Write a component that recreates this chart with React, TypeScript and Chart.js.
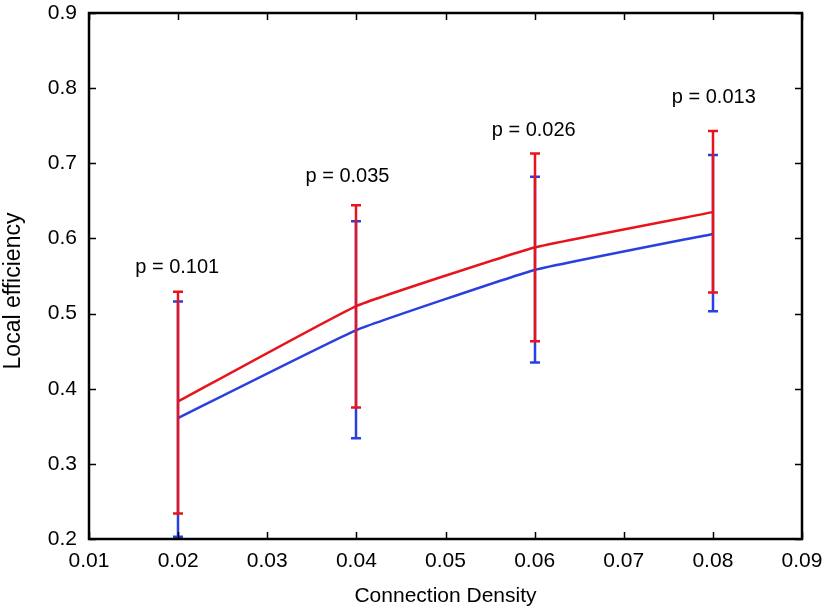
import React, { useEffect, useRef } from "react";
import { Chart, registerables } from "chart.js";

Chart.register(...registerables);

const densities = [0.02, 0.04, 0.06, 0.08];
const redMean = [0.383, 0.51, 0.588, 0.635];
const redLow = [0.234, 0.375, 0.463, 0.528];
const redHigh = [0.529, 0.644, 0.713, 0.743];
const blueMean = [0.361, 0.478, 0.558, 0.606];
const blueLow = [0.203, 0.334, 0.435, 0.503];
const blueHigh = [0.516, 0.623, 0.682, 0.711];
const pLabels = ["p = 0.101", "p = 0.035", "p = 0.026", "p = 0.013"];
const pLabelX = [0.0199, 0.039, 0.0599, 0.0801];
const pLabelY = [0.561, 0.682, 0.744, 0.787];
const yTitle = "Local efficiency";
const xTitle = "Connection Density";

const RED = "#e8141c";
const BLUE = "#2a3fe0";
const FONT = "'Liberation Sans', Arial, Helvetica, sans-serif";

const framePlugin = {
  id: "frame",
  afterDatasetsDraw(chart: any) {
    const { ctx, chartArea, scales } = chart;
    const xs = scales.x;
    const ys = scales.y;
    ctx.save();
    const drawBars = (low: number[], high: number[], color: string, cap: number) => {
      ctx.strokeStyle = color;
      ctx.lineWidth = 2.5;
      for (let i = 0; i < densities.length; i++) {
        const px = Math.round(xs.getPixelForValue(densities[i]));
        const y1 = ys.getPixelForValue(low[i]);
        const y2 = ys.getPixelForValue(high[i]);
        ctx.beginPath();
        ctx.moveTo(px, y1);
        ctx.lineTo(px, y2);
        ctx.moveTo(px - cap, y1);
        ctx.lineTo(px + cap, y1);
        ctx.moveTo(px - cap, y2);
        ctx.lineTo(px + cap, y2);
        ctx.stroke();
      }
    };
    drawBars(blueLow, blueHigh, BLUE, 5);
    drawBars(redLow, redHigh, RED, 5);

    ctx.strokeStyle = "#000";
    ctx.lineWidth = 2.5;
    ctx.strokeRect(chartArea.left, chartArea.top, chartArea.right - chartArea.left, chartArea.bottom - chartArea.top);
    ctx.lineWidth = 1.5;
    ctx.beginPath();
    xs.ticks.forEach((t: any) => {
      const px = Math.round(xs.getPixelForValue(t.value)) + 0.5;
      ctx.moveTo(px, chartArea.bottom);
      ctx.lineTo(px, chartArea.bottom - 7);
      ctx.moveTo(px, chartArea.top);
      ctx.lineTo(px, chartArea.top + 7);
    });
    ys.ticks.forEach((t: any) => {
      const py = Math.round(ys.getPixelForValue(t.value)) + 0.5;
      ctx.moveTo(chartArea.left, py);
      ctx.lineTo(chartArea.left + 7, py);
      ctx.moveTo(chartArea.right, py);
      ctx.lineTo(chartArea.right - 7, py);
    });
    ctx.stroke();

    ctx.fillStyle = "#000";
    ctx.font = `20px ${FONT}`;
    ctx.textAlign = "center";
    ctx.textBaseline = "middle";
    for (let i = 0; i < pLabels.length; i++) {
      ctx.fillText(pLabels[i], xs.getPixelForValue(pLabelX[i]), ys.getPixelForValue(pLabelY[i]));
    }

    ctx.font = `21px ${FONT}`;
    ctx.fillText(xTitle, (chartArea.left + chartArea.right) / 2, 596);
    ctx.save();
    ctx.translate(14, 291);
    ctx.rotate(-Math.PI / 2);
    ctx.font = `23px ${FONT}`;
    ctx.fillText(yTitle, 0, 0);
    ctx.restore();
    ctx.restore();
  },
};

export default function App() {
  const ref = useRef<HTMLCanvasElement>(null);
  useEffect(() => {
    const chart = new Chart(ref.current!, {
      type: "line",
      data: {
        datasets: [
          {
            data: densities.map((d, i) => ({ x: d, y: blueMean[i] })),
            borderColor: BLUE,
            borderWidth: 2.5,
            pointRadius: 0,
            tension: 0.1,
          },
          {
            data: densities.map((d, i) => ({ x: d, y: redMean[i] })),
            borderColor: RED,
            borderWidth: 2.5,
            pointRadius: 0,
            tension: 0.1,
          },
        ],
      },
      options: {
        animation: false,
        responsive: false,
        layout: { padding: { top: 13, right: 27, left: 0, bottom: 0 } },
        plugins: { legend: { display: false }, tooltip: { enabled: false } },
        scales: {
          x: {
            type: "linear",
            min: 0.01,
            max: 0.09,
            grid: { display: false, drawTicks: false },
            border: { display: false },
            ticks: {
              stepSize: 0.01,
              color: "#000",
              padding: 10,
              maxRotation: 0,
              font: { family: FONT, size: 21 },
              callback: (v: any) => Number(v).toFixed(2),
            },
            title: { display: false },
            afterFit: (s: any) => {
              s.height = 70;
              s.paddingLeft = 0;
              s.paddingRight = 0;
            },
          },
          y: {
            type: "linear",
            min: 0.2,
            max: 0.9,
            grid: { display: false, drawTicks: false },
            border: { display: false },
            ticks: {
              stepSize: 0.1,
              color: "#000",
              padding: 12,
              font: { family: FONT, size: 21 },
              callback: (v: any) => Number(v).toFixed(1),
            },
            title: { display: false },
            afterFit: (s: any) => {
              s.width = 89;
              s.paddingTop = 0;
              s.paddingBottom = 0;
            },
          },
        },
      },
      plugins: [framePlugin],
    } as any);
    return () => chart.destroy();
  }, []);
  return (
    <div style={{ position: "absolute", left: 0, top: 0, width: 829, height: 609, background: "#fff" }}>
      <canvas ref={ref} width={829} height={609} />
    </div>
  );
}
